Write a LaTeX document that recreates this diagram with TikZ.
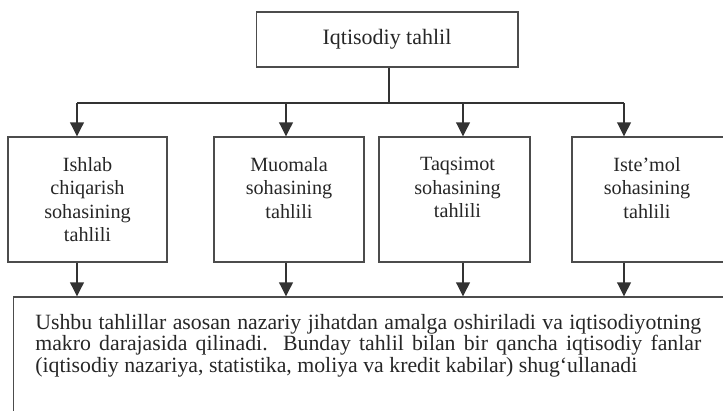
\documentclass[tikz,border=0pt]{standalone}
\usepackage{fontspec}
\setmainfont{Liberation Serif}
\usetikzlibrary{arrows.meta,positioning}
\tikzstyle{box}=[draw=black!70,line width=0.6pt,inner sep=0pt]
\tikzstyle{boxtext}=[text=black!85,align=center,inner sep=0pt,font=\fontsize{11.5}{13.4}\selectfont]
\tikzstyle{notetext}=[text=black!85,align=justify,inner sep=0pt,text width=13.32cm,font=\fontsize{12.4}{12.2}\selectfont]
\tikzstyle{bus}=[draw=black!80,line width=1.1pt]
\tikzstyle{flowedge}=[draw=black!80,line width=1.1pt,-{Triangle[length=2.8mm,width=2.7mm]}]

\begin{document}
\begin{tikzpicture}[x=0.02cm,y=-0.02cm]
\clip (0,0) rectangle (723,410);

% top
\node[box,minimum width=5.24cm,minimum height=1.1cm,text=black!85,font=\fontsize{12.5}{14}\selectfont] (top) at (387,39.5) {Iqtisodiy tahlil};

% bus
\coordinate (j) at (389,103);
\coordinate (t1) at (77,103);
\coordinate (t2) at (286,103);
\coordinate (t3) at (463,103);
\coordinate (t4) at (624,103);
\draw[bus] (top.south -| j) -- (j);
\draw[bus] (t1) -- (t4);

% layer 1
\foreach \pos/\name/\w in {{(87.5,199.5)/b1/3.18},{(289,199.5)/b2/3.0},{(454.5,199.5)/b3/3.02},{(653.5,199.5)/b4/3.26}}
    \node[box,minimum width=\w cm,minimum height=2.5cm] (\name) at \pos {};

\node[boxtext,anchor=north] (b1t) at ([yshift=-0.41cm]b1.north) {Ishlab\\chiqarish\\sohasining\\tahlili};
\node[boxtext,anchor=north] (b2t) at ([yshift=-0.41cm]b2.north) {Muomala\\sohasining\\tahlili};
\node[boxtext,anchor=north] (b3t) at ([yshift=-0.41cm,xshift=0.06cm]b3.north) {Taqsimot\\sohasining\\tahlili};
\node[boxtext,anchor=north] (b4t) at ([yshift=-0.41cm,xshift=-0.13cm]b4.north) {Iste’mol\\sohasining\\tahlili};

% layer 2
\node[box,minimum width=14.54cm,minimum height=2.66cm] (note) at (376.5,363.5) {};
\node[notetext,anchor=north west] (notet) at (35,314) {Ushbu tahlillar asosan nazariy jihatdan amalga oshiriladi va iqtisodiyotning\linebreak makro darajasida qilinadi. Bunday tahlil bilan bir qancha iqtisodiy fanlar\linebreak (iqtisodiy nazariya, statistika, moliya va kredit kabilar) shug‘ullanadi};

% arrows
\foreach \i in {1,...,4}{
    \draw[flowedge] (t\i) -- (t\i |- b\i.north);
    \draw[flowedge] (t\i |- b\i.south) -- (t\i |- note.north);
}
\end{tikzpicture}
\end{document}
